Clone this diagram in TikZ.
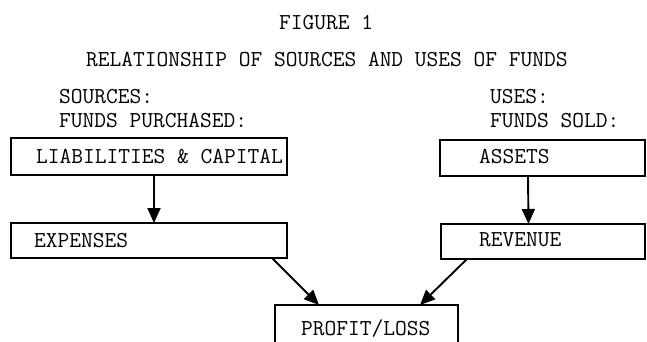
\documentclass[tikz,border=0pt]{standalone}
\usepackage{fontspec}
\usetikzlibrary{arrows.meta}

% typewriter lettering, slightly thickened like a ribbon impression
\newcommand{\typewriter}{\ttfamily\addfontfeatures{FakeBold=0.9}\fontsize{22.8}{24}\selectfont}

\tikzset{
  typed/.style={anchor=base west, inner sep=0pt, font=\typewriter},
  fundbox/.style={draw, line width=1.7pt, inner sep=0pt, outer sep=0pt},
  flow/.style={line width=1.9pt, -{Triangle[length=15pt,width=13pt]}}
}

\begin{document}
\begin{tikzpicture}[x=1pt,y=-1pt]
  \clip (0,0) rectangle (647,342);
  \fill[white] (0,0) rectangle (647,342);

  % headings
  \node[typed] (fig)   at (279,30)  {FIGURE 1};
  \node[typed] (title) at (86,67)   {RELATIONSHIP OF SOURCES AND USES OF FUNDS};
  \node[typed] (src)   at (59,103)  {SOURCES:};
  \node[typed] (fp)    at (59,127)  {FUNDS PURCHASED:};
  \node[typed] (uses)  at (490,103) {USES:};
  \node[typed] (fs)    at (490,127) {FUNDS SOLD:};

  % boxes
  \node[fundbox, minimum width=276pt, minimum height=37pt] (liab)   at (149,156.5) {};
  \node[fundbox, minimum width=276pt, minimum height=35pt] (exp)    at (149,240.5) {};
  \node[fundbox, minimum width=205pt, minimum height=36pt] (assets) at (542.5,158) {};
  \node[fundbox, minimum width=204pt, minimum height=35pt] (rev)    at (543,241.5) {};
  \node[fundbox, minimum width=183pt, minimum height=60pt] (prof)   at (366.5,335) {};

  % box captions
  \node[typed] (liabt)   at (36,163)  {LIABILITIES \& CAPITAL};
  \node[typed] (assetst) at (479,163) {ASSETS};
  \node[typed] (expt)    at (34,247)  {EXPENSES};
  \node[typed] (revt)    at (479,246) {REVENUE};
  \node[typed] (proft)   at (301,335) {PROFIT/LOSS};

  % flows
  \draw[flow] ([xshift=5pt]liab.south) -- ([xshift=5pt]exp.north);
  \draw[flow] ([xshift=-14.5pt]assets.south) -- ([xshift=-14.5pt]rev.north);
  \draw[flow] ([xshift=-15pt]exp.south east) -- ([xshift=44pt]prof.north west);
  \draw[flow] ([xshift=26pt]rev.south west) -- ([xshift=-38pt]prof.north east);
\end{tikzpicture}
\end{document}
